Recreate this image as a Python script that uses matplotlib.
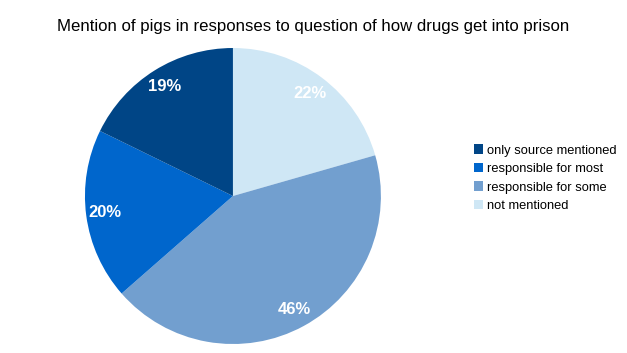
import matplotlib.pyplot as plt
from matplotlib.patches import Patch

plt.rcParams["font.family"] = ["Liberation Sans", "DejaVu Sans"]

categories = ["not mentioned", "responsible for some", "responsible for most", "only source mentioned"]
values = [22, 46, 20, 19]
colors = ["#cfe7f5", "#729fcf", "#0066cc", "#004586"]

fig = plt.figure(figsize=(6.27, 3.53), dpi=100)
ax = fig.add_axes([0.1355, 0.0255, 0.472, 0.8385])

wedges, texts = ax.pie(
    values,
    colors=colors,
    startangle=90,
    counterclock=False,
    labels=[f"{v}%" for v in values],
    labeldistance=0.87,
    textprops=dict(color="white", fontsize=12, fontweight="bold", ha="center", va="center"),
    wedgeprops=dict(linewidth=0),
)
ax.set_aspect("auto")
ax.set_xlim(-1, 1)
ax.set_ylim(-1, 1)

fig.suptitle(
    "Mention of pigs in responses to question of how drugs get into prison",
    x=0.5, y=0.945, fontsize=12.1,
)

handles = [Patch(facecolor=c, edgecolor="none") for c in colors][::-1]
fig.legend(
    handles, categories[::-1],
    loc="center left", bbox_to_anchor=(0.737, 0.495),
    frameon=False, fontsize=9.3, handlelength=0.7, handleheight=0.7,
    handletextpad=0.3, labelspacing=0.5,
)

fig.savefig("out.png", dpi=100)
